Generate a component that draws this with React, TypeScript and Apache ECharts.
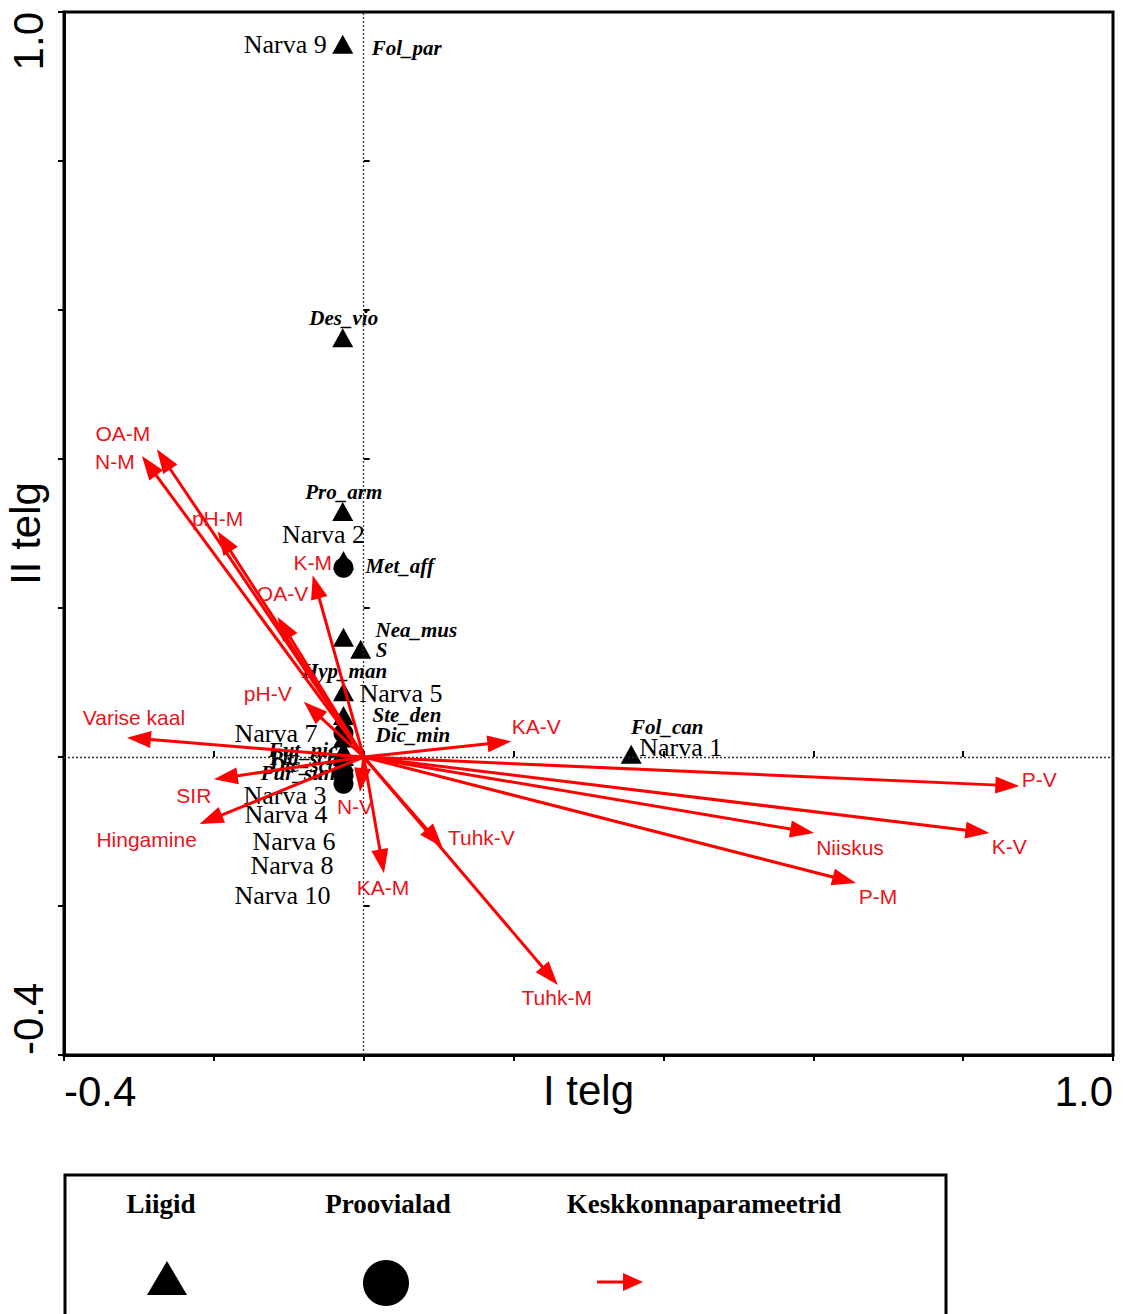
import React, { useEffect, useRef } from "react";
import * as echarts from "echarts";

// ---- Data ----
const axisMin = -0.4;
const axisMax = 1.0;
const axisStep = 0.2;
const labeledTicks = [-0.4, 1.0];

const arrowNames = [
  "OA-M", "N-M", "pH-M", "K-M", "OA-V", "pH-V", "Varise kaal", "SIR", "Hingamine",
  "N-V", "KA-M", "Tuhk-V", "Tuhk-M", "KA-V", "P-V", "K-V", "Niiskus", "P-M",
];
const arrowX = [
  -0.276, -0.296, -0.195, -0.068, -0.115, -0.080, -0.316, -0.200, -0.219,
  -0.005, 0.027, 0.105, 0.259, 0.197, 0.875, 0.835, 0.601, 0.657,
];
const arrowY = [
  0.413, 0.404, 0.303, 0.244, 0.188, 0.074, 0.026, -0.030, -0.090,
  -0.047, -0.156, -0.121, -0.306, 0.021, -0.039, -0.102, -0.102, -0.169,
];

const speciesNames = [
  "Fol_par", "Des_vio", "Pro_arm", "Met_aff", "Nea_mus", "S", "Hyp_man",
  "Ste_den", "Dic_min", "Fol_can", "Fut_nic", "Pla_sch", "Dic_sco", "Pur_sun",
];
const speciesX = [
  -0.028, -0.028, -0.028, -0.027, -0.027, -0.004, -0.027,
  -0.027, -0.027, 0.357, -0.027, -0.027, -0.027, -0.027,
];
const speciesY = [
  0.956, 0.562, 0.329, 0.263, 0.160, 0.144, 0.087,
  0.055, 0.025, 0.003, 0.007, 0.0, -0.007, -0.015,
];

const siteNames = [
  "Narva 1", "Narva 2", "Narva 3", "Narva 4", "Narva 5",
  "Narva 6", "Narva 7", "Narva 8", "Narva 9", "Narva 10",
];
const siteX = [0.357, -0.027, -0.027, -0.027, -0.027, -0.027, -0.027, -0.027, -0.028, -0.027];
const siteY = [0.003, 0.254, -0.011, -0.024, 0.087, 0.009, 0.059, 0.032, 0.956, -0.036];

// ---- Label placement (style/layout only): [align, dx, dy] in pixels ----
const arrowLabelLayout: Record<string, [string, number, number]> = {
  "OA-M": ["center", -34, -16],
  "N-M": ["center", -27, 5],
  "pH-M": ["center", 0, -13],
  "K-M": ["center", 0, -13],
  "OA-V": ["center", 5, -23],
  "pH-V": ["center", -36, -8],
  "Varise kaal": ["center", 7, -20],
  "SIR": ["center", -20, 16],
  "Hingamine": ["center", -53, 15],
  "N-V": ["center", -5, 14],
  "KA-M": ["center", -1, 14],
  "Tuhk-V": ["center", 39, -10],
  "Tuhk-M": ["center", -1, 13],
  "KA-V": ["center", 25, -15],
  "P-V": ["center", 20, -7],
  "K-V": ["center", 20, 14],
  "Niiskus": ["center", 36, 15],
  "P-M": ["center", 22, 14],
};

const speciesLabelLayout: Record<string, [string, number, number]> = {
  Fol_par: ["left", 29, 3],
  Des_vio: ["center", 1, -20],
  Pro_arm: ["center", 1, -20],
  Met_aff: ["left", 22, 5],
  Nea_mus: ["left", 32, -8],
  S: ["left", 15, 0],
  Hyp_man: ["center", 1, -21],
  Ste_den: ["left", 29, -1],
  Dic_min: ["left", 32, -3],
  Fol_can: ["center", 36, -28],
  Fut_nic: ["right", -6, -2],
  Pla_sch: ["right", -5, 1],
  Dic_sco: ["right", -5, 3],
  Pur_sun: ["right", -8, 5],
};

const siteLabelLayout: Record<string, [string, number, number]> = {
  "Narva 1": ["left", 8, -7],
  "Narva 2": ["center", -20, -33],
  "Narva 3": ["right", -17, 30],
  "Narva 4": ["right", -16, 40],
  "Narva 5": ["left", 16, 1],
  "Narva 6": ["right", -8, 91],
  "Narva 7": ["right", -26, 20],
  "Narva 8": ["right", -10, 132],
  "Narva 9": ["right", -16, 0],
  "Narva 10": ["right", -13, 112],
};

const RED = "#ff0000";
const RED_TEXT = "#e8141b";
const SANS = '"Liberation Sans", Arial, sans-serif';
const SERIF = '"Liberation Serif", "Times New Roman", serif';

const isLabeled = (v: number) => labeledTicks.some((t) => Math.abs(t - v) < 1e-6);
const tickFormatter = (v: number) => (isLabeled(v) ? v.toFixed(1) : "");

// a site that sits exactly under a species triangle is hidden by it (as in the reference)
const coversSpecies = (x: number, y: number) =>
  speciesX.some((sx, i) => Math.abs(sx - x) < 0.004 && Math.abs(speciesY[i] - y) < 0.004);

function pointRenderer(
  names: string[],
  layout: Record<string, [string, number, number]>,
  kind: "triangle" | "circle",
  font: string,
  baseZ: number
) {
  return (params: any, api: any) => {
    const name = names[params.dataIndex];
    const vx = api.value(0);
    const vy = api.value(1);
    const p = api.coord([vx, vy]);
    const [align, dx, dy] = layout[name];
    let marker: any;
    if (kind === "triangle") {
      marker = {
        type: "polygon",
        z2: baseZ,
        shape: {
          points: [
            [p[0], p[1] - 10],
            [p[0] + 10.5, p[1] + 9],
            [p[0] - 10.5, p[1] + 9],
          ],
        },
        style: { fill: "#000" },
      };
    } else {
      const hidden = coversSpecies(vx, vy);
      marker = {
        type: "circle",
        z2: baseZ,
        shape: { cx: p[0], cy: p[1] + (hidden ? 3 : 0), r: hidden ? 4.5 : 10 },
        style: { fill: "#000" },
      };
    }
    return {
      type: "group",
      children: [
        marker,
        {
          type: "text",
          z2: baseZ + 1,
          x: p[0] + dx,
          y: p[1] + dy,
          style: { text: name, fill: "#000", font, align, verticalAlign: "middle" },
        },
      ],
    };
  };
}

function buildOption(): any {
  const axisCommon = {
    type: "value",
    min: axisMin,
    max: axisMax,
    interval: axisStep,
    splitLine: { show: false },
  };

  const speciesData = speciesNames.map((n, i) => ({ name: n, value: [speciesX[i], speciesY[i]] }));
  const siteData = siteNames.map((n, i) => ({ name: n, value: [siteX[i], siteY[i]] }));
  const arrowData = arrowNames.map((n, i) => ({ name: n, value: [arrowX[i], arrowY[i]] }));

  return {
    animation: false,
    backgroundColor: "#fff",
    grid: {
      left: 64,
      top: 12,
      width: 1049,
      height: 1043,
      show: true,
      borderColor: "#000",
      borderWidth: 3,
      containLabel: false,
      outerBoundsMode: "none",
    },
    xAxis: [
      {
        ...axisCommon,
        position: "bottom",
        axisLine: { show: true, onZero: false, lineStyle: { color: "#000", width: 3 } },
        axisTick: { show: true, length: 6, lineStyle: { color: "#000", width: 2 } },
        axisLabel: {
          formatter: tickFormatter,
          fontSize: 42,
          fontFamily: SANS,
          color: "#000",
          margin: 15,
          showMinLabel: true,
          showMaxLabel: true,
          alignMinLabel: "left",
          alignMaxLabel: "right",
        },
        name: "I telg",
        nameLocation: "middle",
        nameGap: 14,
        nameMoveOverlap: false,
        nameTextStyle: { fontSize: 42, fontFamily: SANS, color: "#000", verticalAlign: "top" },
      },
      {
        ...axisCommon,
        position: "bottom",
        axisLine: { show: false },
        axisTick: { show: true, inside: true, length: 6, lineStyle: { color: "#000", width: 2 } },
        axisLabel: { show: false },
      },
    ],
    yAxis: [
      {
        ...axisCommon,
        position: "left",
        axisLine: { show: true, onZero: false, lineStyle: { color: "#000", width: 3 } },
        axisTick: { show: true, length: 6, lineStyle: { color: "#000", width: 2 } },
        axisLabel: {
          formatter: tickFormatter,
          rotate: 90,
          fontSize: 42,
          fontFamily: SANS,
          color: "#000",
          margin: 15,
          showMinLabel: true,
          showMaxLabel: true,
          alignMinLabel: "left",
          alignMaxLabel: "right",
        },
        name: "II telg",
        nameLocation: "middle",
        nameRotate: 90,
        nameGap: 18,
        nameMoveOverlap: false,
        nameTextStyle: { fontSize: 42, fontFamily: SANS, color: "#000" },
      },
      {
        ...axisCommon,
        position: "left",
        axisLine: { show: false },
        axisTick: { show: true, inside: true, length: 6, lineStyle: { color: "#000", width: 2 } },
        axisLabel: { show: false },
      },
    ],
    series: [
      {
        type: "scatter",
        name: "origin",
        z: 1,
        symbolSize: 0,
        silent: true,
        data: [[0, 0]],
        markLine: {
          silent: true,
          symbol: ["none", "none"],
          label: { show: false },
          lineStyle: { type: [2, 2], color: "#333", width: 1.3 },
          data: [{ xAxis: 0 }, { yAxis: 0 }],
        },
      },
      {
        type: "custom",
        name: "Proovialad",
        z: 2,
        encode: { x: 0, y: 1 },
        data: siteData,
        renderItem: pointRenderer(siteNames, siteLabelLayout, "circle", `26px ${SERIF}`, 1),
      },
      {
        type: "custom",
        name: "Liigid",
        z: 3,
        encode: { x: 0, y: 1 },
        data: speciesData,
        renderItem: pointRenderer(
          speciesNames,
          speciesLabelLayout,
          "triangle",
          `italic bold 21px ${SERIF}`,
          5
        ),
      },
      {
        type: "custom",
        name: "Keskkonnaparameetrid",
        z: 5,
        encode: { x: 0, y: 1 },
        data: arrowData,
        renderItem: (params: any, api: any) => {
          const idx = params.dataIndex;
          const name = arrowNames[idx];
          const o = api.coord([0, 0]);
          const t = api.coord([api.value(0), api.value(1)]);
          const dx = t[0] - o[0];
          const dy = t[1] - o[1];
          const len = Math.hypot(dx, dy) || 1;
          const ux = dx / len;
          const uy = dy / len;
          const hl = 24;
          const hw = 8.5;
          const bx = t[0] - ux * hl;
          const by = t[1] - uy * hl;
          const px = -uy;
          const py = ux;
          const [align, ox, oy] = arrowLabelLayout[name];
          return {
            type: "group",
            children: [
              {
                type: "line",
                z2: 10,
                shape: { x1: o[0], y1: o[1], x2: bx + ux * 3, y2: by + uy * 3 },
                style: { stroke: RED, lineWidth: 3 },
              },
              {
                type: "polygon",
                z2: 10,
                shape: {
                  points: [
                    [t[0], t[1]],
                    [bx + px * hw, by + py * hw],
                    [bx - px * hw, by - py * hw],
                  ],
                },
                style: { fill: RED },
              },
              {
                type: "text",
                z2: 11,
                x: t[0] + ox,
                y: t[1] + oy,
                style: {
                  text: name,
                  fill: RED_TEXT,
                  fontSize: 21,
                  fontFamily: SANS,
                  align,
                  verticalAlign: "middle",
                },
              },
            ],
          };
        },
      },
    ],
    graphic: [
      {
        type: "rect",
        shape: { x: 65, y: 1175, width: 881, height: 160 },
        style: { fill: "#fff", stroke: "#000", lineWidth: 3 },
      },
      {
        type: "text",
        x: 161,
        y: 1204,
        style: {
          text: "Liigid",
          font: `bold 27px ${SERIF}`,
          fill: "#000",
          align: "center",
          verticalAlign: "middle",
        },
      },
      {
        type: "text",
        x: 388,
        y: 1204,
        style: {
          text: "Proovialad",
          font: `bold 27px ${SERIF}`,
          fill: "#000",
          align: "center",
          verticalAlign: "middle",
        },
      },
      {
        type: "text",
        x: 704,
        y: 1204,
        style: {
          text: "Keskkonnaparameetrid",
          font: `bold 27px ${SERIF}`,
          fill: "#000",
          align: "center",
          verticalAlign: "middle",
        },
      },
      {
        type: "polygon",
        shape: { points: [[167, 1261], [187, 1295], [147, 1295]] },
        style: { fill: "#000" },
      },
      {
        type: "circle",
        shape: { cx: 386, cy: 1283, r: 23 },
        style: { fill: "#000" },
      },
      {
        type: "line",
        shape: { x1: 597, y1: 1282, x2: 626, y2: 1282 },
        style: { stroke: RED, lineWidth: 3 },
      },
      {
        type: "polygon",
        shape: { points: [[643, 1282], [623, 1273], [623, 1291]] },
        style: { fill: RED },
      },
    ],
  };
}

export default function App() {
  const ref = useRef<HTMLDivElement>(null);
  useEffect(() => {
    if (!ref.current) return;
    const chart = echarts.init(ref.current, undefined, { renderer: "svg" });
    chart.setOption(buildOption());
    return () => chart.dispose();
  }, []);
  return (
    <div
      ref={ref}
      style={{ position: "absolute", left: 0, top: 0, width: 1123, height: 1314, background: "#fff" }}
    />
  );
}
